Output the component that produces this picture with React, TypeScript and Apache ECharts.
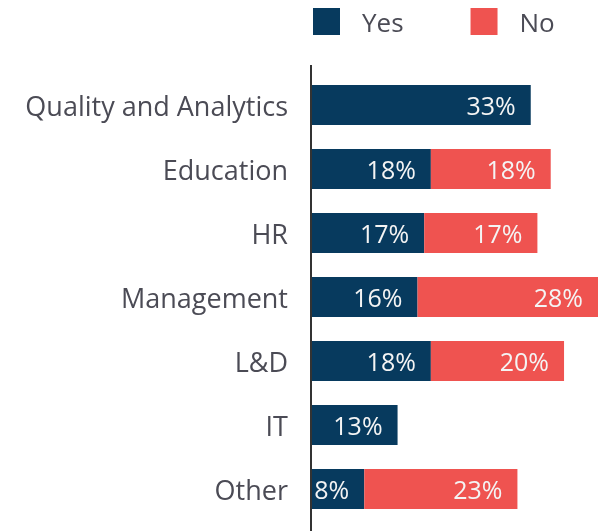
import React, { useEffect, useRef } from "react";
import * as echarts from "echarts";

const categories = ["Quality and Analytics", "Education", "HR", "Management", "L&D", "IT", "Other"];
const yesValues: (number | null)[] = [33, 18, 17, 16, 18, 13, 8];
const noValues: (number | null)[] = [null, 18, 17, 28, 20, null, 23];

const NAVY = "#073a5e";
const RED = "#ef5350";
const TEXT = "#4b4b55";
const FONT = "Open Sans";

export default function App() {
  const ref = useRef<HTMLDivElement>(null);
  useEffect(() => {
    const chart = echarts.init(ref.current!, null, { renderer: "svg" });
    const label = {
      show: true,
      position: "insideRight" as const,
      distance: 15,
      color: "#f4f4f4",
      fontSize: 25,
      fontFamily: FONT,
      formatter: (p: any) => (p.value == null ? "" : p.value + "%"),
    };
    chart.setOption({
      animation: false,
      legend: {
        left: 313,
        top: 8,
        padding: 0,
        itemWidth: 27,
        itemHeight: 27,
        itemGap: 67,
        icon: "rect",
        textStyle: { color: TEXT, fontSize: 26, fontFamily: FONT, padding: [6, 0, 0, 17] },
        data: ["Yes", "No"],
      },
      grid: { left: 311, top: 73, right: 0, height: 448 },
      xAxis: { type: "value", min: 0, max: 43.1, show: false },
      yAxis: {
        type: "category",
        inverse: true,
        data: categories,
        axisLine: { show: false },
        axisTick: { show: false },
        axisLabel: { color: TEXT, fontSize: 27, fontFamily: FONT, margin: 23 },
      },
      graphic: [
        {
          type: "line",
          shape: { x1: 311, y1: 65, x2: 311, y2: 531 },
          style: { stroke: "#333333", lineWidth: 2 },
          z: 10,
        },
      ],
      series: [
        {
          name: "Yes",
          type: "bar",
          stack: "all",
          barWidth: 40,
          itemStyle: { color: NAVY },
          label,
          data: yesValues,
        },
        {
          name: "No",
          type: "bar",
          stack: "all",
          barWidth: 40,
          itemStyle: { color: RED },
          label,
          data: noValues,
        },
      ],
    });
    return () => chart.dispose();
  }, []);
  return <div ref={ref} style={{ position: "fixed", left: 0, top: 0, width: 598, height: 531 }} />;
}
